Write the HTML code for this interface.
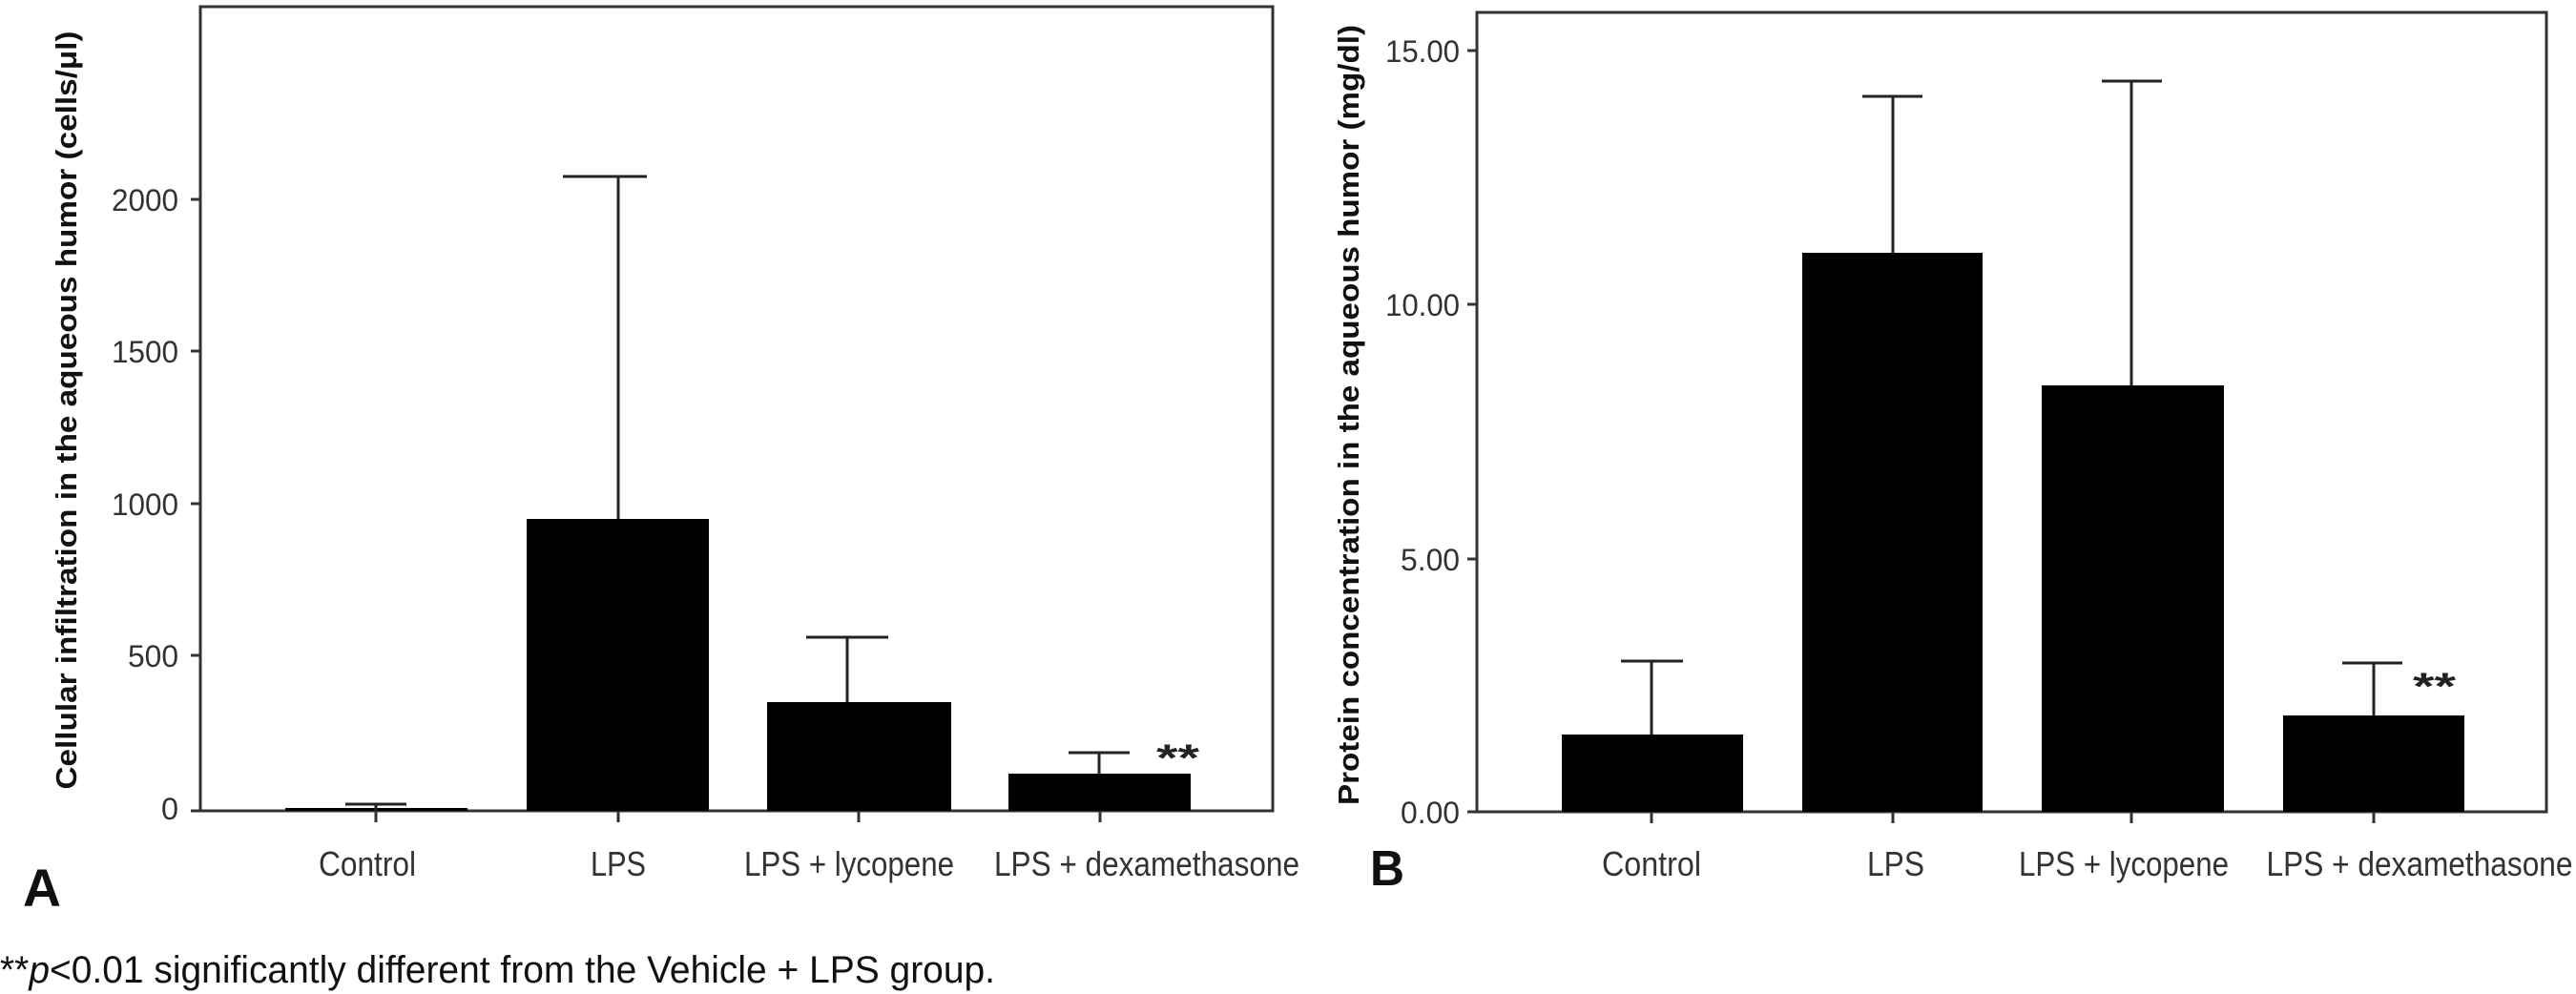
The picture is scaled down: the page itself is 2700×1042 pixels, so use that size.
<!DOCTYPE html>
<html><head><meta charset="utf-8"><style>
html,body{margin:0;padding:0;background:#fff;}
svg{display:block;}
text{font-family:"Liberation Sans",sans-serif;}
</style></head><body>
<svg width="2700" height="1042" viewBox="0 0 2700 1042" xmlns="http://www.w3.org/2000/svg">
<!-- Panel A -->
<g stroke="#333" stroke-width="3" fill="none">
<path d="M210 850 V7 H1334 V850 H200"/>
<path d="M200 209 H210 M200 368 H210 M200 528 H210 M200 687 H210"/>
<path d="M394 850 V862 M648 850 V862 M900 850 V862 M1153 850 V862"/>
</g>
<g fill="#000">
<rect x="299" y="847" width="191" height="3"/>
<rect x="552" y="544" width="191" height="306"/>
<rect x="804" y="736" width="193" height="114"/>
<rect x="1057" y="811" width="191" height="39"/>
</g>
<g stroke="#222" stroke-width="3" fill="none">
<path d="M394 843 V850 M362 843 H426"/>
<path d="M648 185 V544 M590 185 H678"/>
<path d="M888 668 V736 M845 668 H931"/>
<path d="M1152 789 V811 M1120 789 H1184"/>
</g>
<g font-size="32" fill="#333" text-anchor="end">
<text x="187" y="221" textLength="70" lengthAdjust="spacingAndGlyphs">2000</text>
<text x="187" y="380" textLength="70" lengthAdjust="spacingAndGlyphs">1500</text>
<text x="187" y="540" textLength="70" lengthAdjust="spacingAndGlyphs">1000</text>
<text x="187" y="699" textLength="53" lengthAdjust="spacingAndGlyphs">500</text>
<text x="187" y="859" textLength="18" lengthAdjust="spacingAndGlyphs">0</text>
</g>
<g font-size="36" fill="#333" text-anchor="middle">
<text x="385" y="918" textLength="102" lengthAdjust="spacingAndGlyphs">Control</text>
<text x="648" y="918" textLength="58" lengthAdjust="spacingAndGlyphs">LPS</text>
<text x="890" y="918" textLength="220" lengthAdjust="spacingAndGlyphs">LPS + lycopene</text>
<text x="1202" y="918" textLength="320" lengthAdjust="spacingAndGlyphs">LPS + dexamethasone</text>
</g>
<text x="1212" y="808" font-size="40" font-weight="bold" fill="#222" textLength="45" lengthAdjust="spacingAndGlyphs">**</text>
<text transform="translate(80,430) rotate(-90)" text-anchor="middle" font-size="31" font-weight="bold" fill="#111" textLength="795" lengthAdjust="spacingAndGlyphs">Cellular infiltration in the aqueous humor (cells/μl)</text>
<text x="24" y="950" font-size="56" font-weight="bold" fill="#111" textLength="40" lengthAdjust="spacingAndGlyphs">A</text>

<!-- Panel B -->
<g stroke="#333" stroke-width="3" fill="none">
<path d="M1548 851 V13 H2669 V851 H1538"/>
<path d="M1538 53 H1548 M1538 319 H1548 M1538 586 H1548"/>
<path d="M1731 851 V863 M1984 851 V863 M2234 851 V863 M2488 851 V863"/>
</g>
<g fill="#000">
<rect x="1637" y="770" width="190" height="81"/>
<rect x="1889" y="265" width="189" height="586"/>
<rect x="2140" y="404" width="191" height="447"/>
<rect x="2393" y="750" width="190" height="101"/>
</g>
<g stroke="#222" stroke-width="3" fill="none">
<path d="M1731 693 V770 M1699 693 H1764"/>
<path d="M1984 101 V265 M1952 101 H2015"/>
<path d="M2234 85 V404 M2203 85 H2266"/>
<path d="M2488 695 V750 M2455 695 H2518"/>
</g>
<g font-size="32" fill="#333" text-anchor="end">
<text x="1530" y="65" textLength="78" lengthAdjust="spacingAndGlyphs">15.00</text>
<text x="1530" y="331" textLength="78" lengthAdjust="spacingAndGlyphs">10.00</text>
<text x="1530" y="598" textLength="62" lengthAdjust="spacingAndGlyphs">5.00</text>
<text x="1530" y="863" textLength="62" lengthAdjust="spacingAndGlyphs">0.00</text>
</g>
<g font-size="36" fill="#333" text-anchor="middle">
<text x="1731" y="918" textLength="104" lengthAdjust="spacingAndGlyphs">Control</text>
<text x="1987" y="918" textLength="60" lengthAdjust="spacingAndGlyphs">LPS</text>
<text x="2226" y="918" textLength="220" lengthAdjust="spacingAndGlyphs">LPS + lycopene</text>
<text x="2536" y="918" textLength="321" lengthAdjust="spacingAndGlyphs">LPS + dexamethasone</text>
</g>
<text x="2529" y="733" font-size="40" font-weight="bold" fill="#222" textLength="45" lengthAdjust="spacingAndGlyphs">**</text>
<text transform="translate(1424,435) rotate(-90)" text-anchor="middle" font-size="31" font-weight="bold" fill="#111" textLength="818" lengthAdjust="spacingAndGlyphs">Protein concentration in the aqueous humor (mg/dl)</text>
<text x="1436" y="928" font-size="52" font-weight="bold" fill="#111" textLength="36" lengthAdjust="spacingAndGlyphs">B</text>

<!-- Footnote -->
<text x="0" y="1030" font-size="40" fill="#111" textLength="1043" lengthAdjust="spacingAndGlyphs">**<tspan font-style="italic">p</tspan>&lt;0.01 significantly different from the Vehicle + LPS group.</text>
</svg>
</body></html>
